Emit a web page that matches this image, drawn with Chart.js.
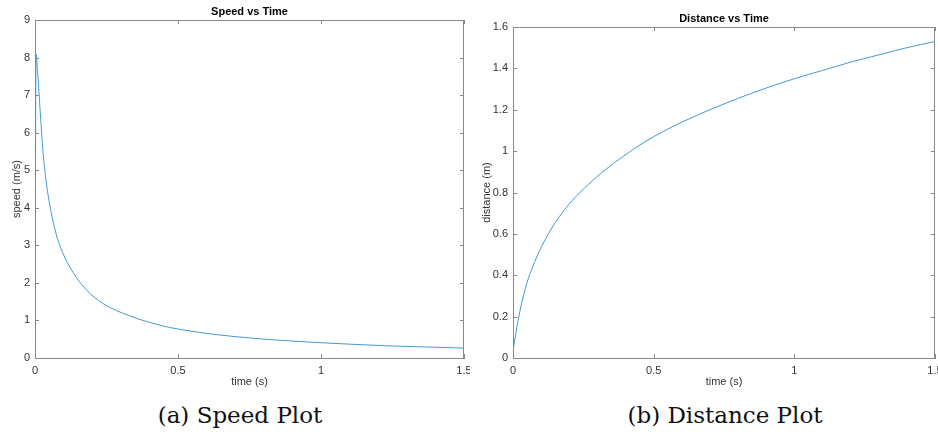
<!DOCTYPE html>
<html>
<head>
<meta charset="utf-8">
<script src="https://cdn.jsdelivr.net/npm/chart.js@4"></script>
<style>
  html, body { margin: 0; padding: 0; background: #fff; overflow: hidden; }
  body { width: 938px; height: 437px; position: relative; }
  canvas { position: absolute; top: 0; }
  #speedChart { left: 0; }
  #distChart { left: 470px; }
  .caption {
    position: absolute; top: 400px; width: 400px; text-align: center;
    font-family: "DejaVu Serif", serif; font-size: 23px; color: #111; line-height: 30px;
  }
</style>
</head>
<body>
<canvas id="speedChart" width="470" height="395"></canvas>
<canvas id="distChart" width="468" height="395"></canvas>
<div class="caption" style="left:40px">(a) Speed Plot</div>
<div class="caption" style="left:525px">(b) Distance Plot</div>
<script>
// values
const speedTime = [0, 0.0035, 0.009, 0.019, 0.027, 0.039, 0.056, 0.074, 0.097, 0.132, 0.179, 0.238, 0.332, 0.449, 0.509, 0.626, 0.743, 0.861, 0.978, 1.096, 1.213, 1.33, 1.5];
const speedVals = [0, 8.09, 7.63, 6.47, 5.58, 4.7, 3.9, 3.3, 2.8, 2.29, 1.82, 1.45, 1.12, 0.85, 0.76, 0.63, 0.54, 0.47, 0.415, 0.37, 0.33, 0.30, 0.265];

const distTime = [0, 0.019, 0.043, 0.067, 0.102, 0.15, 0.209, 0.268, 0.328, 0.387, 0.446, 0.5, 0.6, 0.7, 0.8, 0.9, 1.0, 1.1, 1.2, 1.3, 1.4, 1.5];
const distVals = [0.035, 0.188, 0.333, 0.43, 0.54, 0.654, 0.759, 0.839, 0.91, 0.97, 1.025, 1.07, 1.14, 1.20, 1.255, 1.305, 1.35, 1.39, 1.43, 1.465, 1.50, 1.53];

const FONT = '"Liberation Sans", Arial, sans-serif';
const AXIS = '#888888';
const LINE = '#4299d6';

// box round the plot, inward ticks and bold title (MATLAB look)
const framePlugin = {
    id: 'frame',
    afterDraw(chart, args, opts) {
        const { ctx, chartArea: a } = chart;
        const xs = chart.scales.x, ys = chart.scales.y;
        ctx.save();
        ctx.strokeStyle = AXIS;
        ctx.lineWidth = 1;
        ctx.beginPath();
        ctx.moveTo(a.left, a.top + 0.5);
        ctx.lineTo(a.right, a.top + 0.5);
        ctx.moveTo(a.right - 0.5, a.top);
        ctx.lineTo(a.right - 0.5, a.bottom);
        xs.ticks.forEach(t => {
            const px = Math.round(xs.getPixelForValue(t.value)) + 0.5;
            ctx.moveTo(px, a.bottom); ctx.lineTo(px, a.bottom - 4);
            ctx.moveTo(px, a.top); ctx.lineTo(px, a.top + 4);
        });
        ys.ticks.forEach(t => {
            const py = Math.round(ys.getPixelForValue(t.value)) + 0.5;
            ctx.moveTo(a.left, py); ctx.lineTo(a.left + 4, py);
            ctx.moveTo(a.right, py); ctx.lineTo(a.right - 4, py);
        });
        ctx.stroke();
        ctx.fillStyle = '#000';
        ctx.font = 'bold 11px ' + FONT;
        ctx.textAlign = 'center';
        ctx.textBaseline = 'middle';
        ctx.fillText(opts.title, (a.left + a.right) / 2, a.top - 8);
        ctx.restore();
    }
};

const fmt = v => String(+v.toFixed(2));

function makeChart(id, xVals, yVals, cfg) {
    const points = xVals.map((x, i) => ({ x: x, y: yVals[i] }));
    return new Chart(document.getElementById(id), {
        type: 'line',
        data: {
            datasets: [{
                data: points,
                borderColor: LINE,
                borderWidth: 1,
                pointRadius: 0,
                cubicInterpolationMode: 'monotone',
                fill: false
            }]
        },
        options: {
            responsive: false,
            animation: false,
            events: [],
            layout: { padding: { top: cfg.top, right: cfg.right, left: 0, bottom: 0 } },
            plugins: {
                legend: { display: false },
                tooltip: { enabled: false },
                frame: { title: cfg.title }
            },
            scales: {
                x: {
                    type: 'linear',
                    min: 0, max: 1.5,
                    grid: { display: false, drawTicks: false },
                    border: { display: true, color: AXIS, width: 1 },
                    ticks: { stepSize: 0.5, padding: 6, color: '#333', font: { family: FONT, size: 11 }, maxRotation: 0, callback: fmt },
                    title: { display: true, text: 'time (s)', color: '#333', font: { family: FONT, size: 11 }, padding: { top: 0, bottom: 6 } },
                    afterFit(s) { s.height = 37; s.paddingLeft = 0; s.paddingRight = 0; }
                },
                y: {
                    min: 0, max: cfg.yMax,
                    grid: { display: false, drawTicks: false },
                    border: { display: true, color: AXIS, width: 1 },
                    ticks: { stepSize: cfg.yStep, padding: 5, color: '#333', font: { family: FONT, size: 11 }, callback: fmt },
                    title: { display: true, text: cfg.yLabel, color: '#333', font: { family: FONT, size: 11 }, padding: { top: cfg.yTitlePad, bottom: 0 } },
                    afterFit(s) { s.width = cfg.yWidth; s.paddingTop = 0; s.paddingBottom = 0; }
                }
            }
        },
        plugins: [framePlugin]
    });
}

makeChart('speedChart', speedTime, speedVals, {
    title: 'Speed vs Time', yLabel: 'speed (m/s)',
    yMax: 9, yStep: 1, top: 20, right: 6, yWidth: 35, yTitlePad: 10
});

makeChart('distChart', distTime, distVals, {
    title: 'Distance vs Time', yLabel: 'distance (m)',
    yMax: 1.6, yStep: 0.2, top: 27, right: 3, yWidth: 43, yTitlePad: 10
});
</script>
</body>
</html>
